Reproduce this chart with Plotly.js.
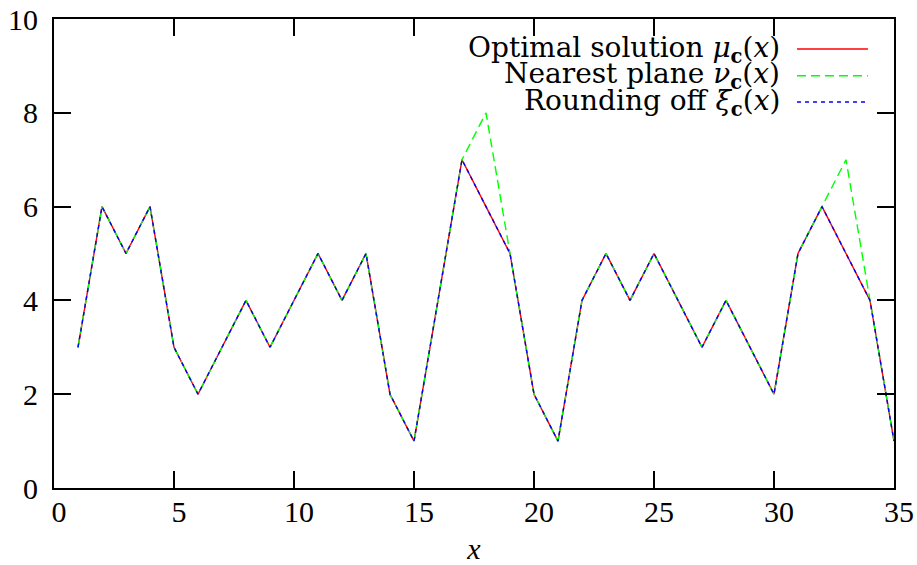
<!DOCTYPE html>
<html>
<head>
<meta charset="utf-8">
<script src="https://cdn.plot.ly/plotly-3.0.1.min.js"></script>
<style>html,body{margin:0;padding:0;background:#fff;}#chart{width:917px;height:565px;}</style>
</head>
<body>
<div id="chart"></div>
<script>
const xs = [1,2,3,4,5,6,7,8,9,10,11,12,13,14,15,16,17,18,19,20,21,22,23,24,25,26,27,28,29,30,31,32,33,34,35];
const optimal  = [3,6,5,6,3,2,3,4,3,4,5,4,5,2,1,4,7,6,5,2,1,4,5,4,5,4,3,4,3,2,5,6,5,4,1];
const nearest  = [3,6,5,6,3,2,3,4,3,4,5,4,5,2,1,4,7,8,5,2,1,4,5,4,5,4,3,4,3,2,5,6,7,4,1];
const rounding = [3,6,5,6,3,2,3,4,3,4,5,4,5,2,1,4,7,6,5,2,1,4,5,4,5,4,3,4,3,2,5,6,5,4,1];
const xTicks = [0,5,10,15,20,25,30,35];
const yTicks = [0,2,4,6,8,10];
const names = [
  'Optimal solution <i>μ</i><sub><b>c</b></sub>(<i>x</i>)',
  'Nearest plane <i>ν</i><sub><b>c</b></sub>(<i>x</i>)',
  'Rounding off <i>ξ</i><sub><b>c</b></sub>(<i>x</i>)'
];
const colors = ['#ff0000', '#00ff00', '#0000ff'];
const dashes = ['solid', '9px,5px', '4px,4px'];
const series = [optimal, nearest, rounding];

const TICKFONT = 'Liberation Serif';
const LEGFONT = 'DejaVu Serif';
const traces = series.map((ys, i) => ({
  x: xs, y: ys, type: 'scatter', mode: 'lines', name: names[i],
  line: {color: colors[i], width: 1.4, dash: dashes[i]},
  showlegend: false, hoverinfo: 'skip'
}));

const legY = [0.936, 0.879, 0.823];
const annotations = names.map((n, i) => ({
  xref: 'paper', yref: 'paper', x: 0.8667, y: legY[i],
  xanchor: 'right', yanchor: 'middle', text: n, showarrow: false,
  font: {family: LEGFONT, size: 28, color: '#000'}
}));
const shapes = names.map((n, i) => ({
  type: 'line', xref: 'paper', yref: 'paper',
  x0: 0.8845, x1: 0.969, y0: legY[i], y1: legY[i],
  line: {color: colors[i], width: 1.4, dash: dashes[i]}
}));

function axis(extra) {
  return Object.assign({
    showline: true, mirror: 'ticks', linewidth: 2, linecolor: '#000',
    ticks: 'inside', ticklen: 17, tickwidth: 2, tickcolor: '#000',
    showgrid: false, zeroline: false,
    tickfont: {family: TICKFONT, size: 30, color: '#000'}
  }, extra);
}

const layout = {
  width: 917, height: 565,
  margin: {l: 54, r: 23, t: 19, b: 77},
  paper_bgcolor: '#fff', plot_bgcolor: '#fff',
  xaxis: axis({
    range: [0, 35], tickvals: xTicks, ticktext: xTicks.map(String),
    ticklabelstandoff: -4, ticklabelshift: 5,
    title: {text: '<i>x</i>', font: {family: TICKFONT, size: 30, color: '#000'}, standoff: 12}
  }),
  yaxis: axis({
    range: [0, 10], tickvals: yTicks, ticktext: yTicks.map(String),
    ticklabelstandoff: 8
  }),
  annotations: annotations,
  shapes: shapes,
  showlegend: false
};

Plotly.newPlot('chart', traces, layout, {displayModeBar: false, staticPlot: true});
</script>
</body>
</html>
